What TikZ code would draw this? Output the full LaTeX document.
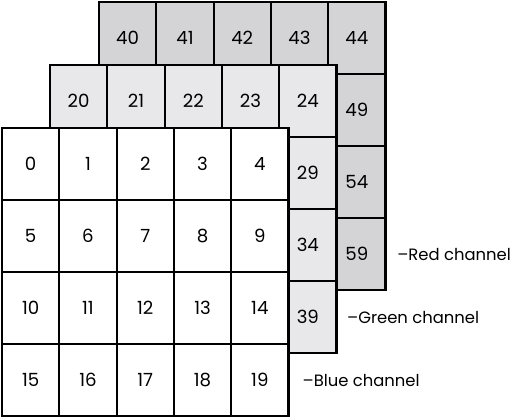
\documentclass[tikz,border=0pt]{standalone}
\usepackage{fontspec}
\usepackage{tikz}
\usetikzlibrary{positioning}
\newfontfamily\chfont{Poppins}
\definecolor{redch}{HTML}{D4D4D6}
\definecolor{greench}{HTML}{E8E8EA}
\definecolor{bluech}{HTML}{FFFFFF}

\begin{document}
\begin{tikzpicture}[x=0.03cm, y=-0.03cm,
    cell/.style={draw, line width=1.8pt, minimum width=1.719cm, minimum height=2.16cm,
      inner sep=0pt, text height=10.8pt, text depth=0pt, font=\chfont\fontsize{15.5}{18}\selectfont},
    chlabel/.style={inner sep=0pt, anchor=west, font=\chfont\fontsize{14}{16}\selectfont}]
  \useasboundingbox (0,0) rectangle (515,419);
  % back to front: red, green, blue (only the blue layer shows all its numbers)
  \foreach \first/\xo/\yo/\col/\pre/\all in {40/99/2/redch/r/0, 20/50/65/greench/g/0, 0/2/128/bluech/b/1} {
    \foreach \r in {0,...,3} {
      \foreach \c in {0,...,4} {
        \pgfmathtruncatemacro{\n}{\first+5*\r+\c}
        \pgfmathtruncatemacro{\seen}{(\all==1 || \r==0 || \c==4) ? 1 : 0}
        \node[cell, fill=\col] (\pre\n) at ({\xo+57.3*(\c+0.5)}, {\yo+72*(\r+0.5)})
          {\ifnum\seen=1 \n\fi};
      }
    }
  }
  \node[chlabel, right=9pt of r59] (redlab) {–Red channel};
  \node[chlabel, right=8pt of g39] (greenlab) {–Green channel};
  \node[chlabel, right=11pt of b19] (bluelab) {–Blue channel};
\end{tikzpicture}
\end{document}
